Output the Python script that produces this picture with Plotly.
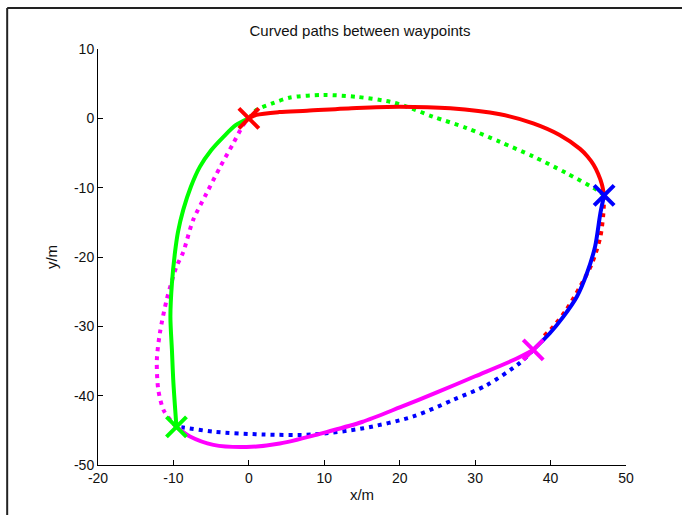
import plotly.graph_objects as go

# Waypoints
wp_x = [0, 47.1, 37.7, -9.6]
wp_y = [0, -11.1, -33.4, -44.5]
wp_colors = ["#FF0000", "#0000FF", "#FF00FF", "#00FF00"]

# Leg 1 (red X -> blue X)
red_solid_x = [0, 1, 4, 7.7, 14.3, 20, 26.7, 33.3, 37.7, 41.2, 43.9, 44.9, 45.7, 46.3, 46.8, 47.1]
red_solid_y = [0, 0.5, 0.9, 1.1, 1.5, 1.68, 1.45, 0.58, -0.72, -2.4, -4.4, -5.5, -6.7, -8.0, -9.5, -11.1]
green_dot_x = [0, 1, 3.2, 5.5, 9.8, 14.3, 18.7, 20.9, 24.4, 28.9, 33.3, 37.7, 42.1, 46.1, 47.1]
green_dot_y = [0, 1.2, 2.2, 3.0, 3.37, 3.1, 2.4, 1.7, 0.24, -1.4, -3.4, -5.5, -7.9, -10.3, -11.1]

# Leg 2 (blue X -> magenta X)
blue_solid_x = [47.1, 46.6, 45.9, 44.8, 43.5, 41.7, 39.9, 37.7]
blue_solid_y = [-11.1, -13.7, -18.5, -22.4, -25.7, -28.6, -31.0, -33.4]
red_dot_x = [47.1, 47.0, 46.6, 45.5, 43.9, 42.1, 40.4, 39.0]
red_dot_y = [-11.1, -13.7, -17.1, -20.9, -24.3, -27.6, -30.0, -31.5]

# Leg 3 (magenta X -> green X)
magenta_solid_x = [37.7, 35, 30, 25, 20, 15, 10.8, 4.1, -0.3, -4.7, -7.8, -9.6]
magenta_solid_y = [-33.4, -34.9, -37.2, -39.5, -41.7, -43.8, -45.1, -46.9, -47.4, -47.1, -45.9, -44.5]
blue_dot_x = [37.7, 35.9, 31.5, 27.1, 21.8, 15.2, 8.5, 1.9, -4.7, -8.7, -9.6]
blue_dot_y = [-33.4, -35.3, -38.5, -40.6, -43.0, -44.7, -45.6, -45.6, -45.2, -44.6, -44.5]

# Leg 4 (green X -> red X)
green_solid_x = [-9.6, -10.0, -10.2, -10.4, -10.2, -9.8, -9.4, -8.7, -7.7, -6.5, -5.0, -3.4, -1.7, 0]
green_solid_y = [-44.5, -38.2, -33.4, -28.6, -23.8, -19.4, -16.4, -13.2, -9.9, -7.0, -4.6, -2.7, -0.96, 0]
magenta_dot_x = [-9.6, -10.2, -11.3, -12.0, -12.2, -11.8, -10.9, -9.6, -8.7, -7.4, -5.6, -3.8, -2.06, -0.74, 0]
magenta_dot_y = [-44.5, -43.8, -42.1, -39.2, -34.9, -31.0, -26.2, -21.4, -19.3, -14.7, -10.8, -7.0, -3.6, -0.96, 0]

x_ticks = [-20, -10, 0, 10, 20, 30, 40, 50]
y_ticks = [-50, -40, -30, -20, -10, 0, 10]

FONT = "Liberation Sans, Arial"
TXT = "#111111"

fig = go.Figure()

DOT = "4px,5px"
dotted = [
    (green_dot_x, green_dot_y, "#00FF00"),
    (red_dot_x, red_dot_y, "#FF0000"),
    (blue_dot_x, blue_dot_y, "#0000FF"),
    (magenta_dot_x, magenta_dot_y, "#FF00FF"),
]
for xs, ys, c in dotted:
    fig.add_trace(go.Scatter(x=xs, y=ys, mode="lines",
                             line=dict(color=c, width=4, dash=DOT, shape="spline", smoothing=0.8),
                             showlegend=False, hoverinfo="skip"))

solid = [
    (red_solid_x, red_solid_y, "#FF0000"),
    (blue_solid_x, blue_solid_y, "#0000FF"),
    (magenta_solid_x, magenta_solid_y, "#FF00FF"),
    (green_solid_x, green_solid_y, "#00FF00"),
]
for xs, ys, c in solid:
    fig.add_trace(go.Scatter(x=xs, y=ys, mode="lines",
                             line=dict(color=c, width=4, shape="spline", smoothing=0.8),
                             showlegend=False, hoverinfo="skip"))

for xw, yw, c in zip(wp_x, wp_y, wp_colors):
    fig.add_trace(go.Scatter(x=[xw], y=[yw], mode="markers",
                             marker=dict(symbol="x-thin-open", size=20, color=c,
                                         line=dict(color=c, width=4)),
                             showlegend=False, hoverinfo="skip"))

axis_common = dict(
    showgrid=False, zeroline=False, showline=True, linecolor="black", linewidth=1,
    ticks="inside", ticklen=5, tickcolor="black", mirror=False,
    tickfont=dict(family=FONT, size=14, color=TXT),
)

fig.update_layout(
    width=682, height=515,
    margin=dict(l=98, r=56, t=49, b=50),
    paper_bgcolor="white", plot_bgcolor="white",
    title=dict(text="Curved paths between waypoints", x=360 / 682, xanchor="center",
               y=1 - 31 / 515, yanchor="middle",
               font=dict(family=FONT, size=15, color=TXT)),
    xaxis=dict(range=[-20, 50], tickvals=x_ticks, ticktext=[str(v) for v in x_ticks],
               title=dict(text="x/m", standoff=4, font=dict(family=FONT, size=15, color=TXT)),
               **axis_common),
    yaxis=dict(range=[-50, 10], tickvals=y_ticks, ticktext=[str(v) for v in y_ticks],
               title=dict(text="y/m", standoff=12, font=dict(family=FONT, size=15, color=TXT)),
               **axis_common),
    shapes=[
        dict(type="line", xref="paper", yref="paper", x0=-0.172, x1=1.2, y0=(465 - 8) / 416, y1=(465 - 8) / 416,
             line=dict(color="#222222", width=2)),
        dict(type="line", xref="paper", yref="paper", x0=-0.172, x1=-0.172, y0=-0.2, y1=(465 - 8) / 416,
             line=dict(color="#222222", width=2)),
    ],
)

fig.write_html("out.html", config={"displayModeBar": False},
               post_script="document.body.style.margin='0';document.body.style.overflow='hidden';")
